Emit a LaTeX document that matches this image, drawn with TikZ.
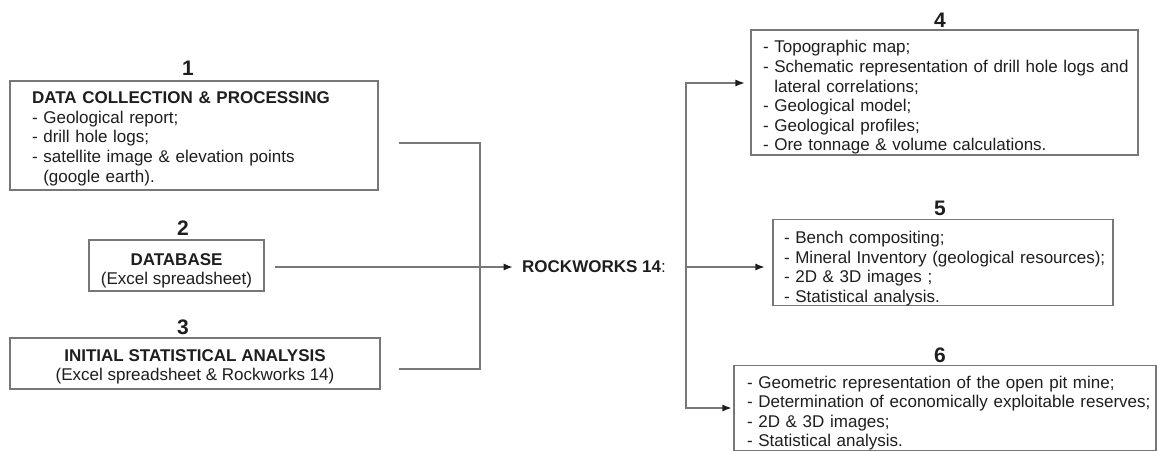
\documentclass[tikz,border=0pt]{standalone}
\usepackage{fontspec}
\setmainfont{Liberation Sans}
\usetikzlibrary{arrows.meta}
\definecolor{inkgray}{HTML}{1E1E1E}
\definecolor{linegray}{HTML}{777777}
\hyphenpenalty=10000
\exhyphenpenalty=10000
\newlength{\lineindent}
\newcommand{\padtop}[1]{\rule{0pt}{#1}}
\newcommand{\bul}{\hspace*{\lineindent}-\ }
\newcommand{\cont}{\hspace*{\lineindent}\hphantom{-}\ }

\begin{document}
\begin{tikzpicture}[x=1pt, y=-1pt, every node/.style={text=inkgray}]
    % Define styles
    \tikzstyle{stage} = [draw=linegray, line width=1.1pt, rectangle, fill=white, inner ysep=0pt, font=\fontsize{17}{19.6}\selectfont]
    \tikzstyle{stagenum} = [font=\fontsize{21}{24}\selectfont\bfseries, inner sep=0pt]
    \tikzstyle{flow} = [draw=linegray, line width=1.1pt]
    \tikzstyle{flowarrow} = [flow, -{Latex[length=9pt, width=7pt, color=inkgray]}]

    \useasboundingbox (0,0) rectangle (1157,452);

    % Input nodes
    \node[stage, minimum width=368pt, minimum height=109pt, text width=328pt, inner xsep=20pt, align=left] (collect) at (194,135.5)
        {\setlength{\lineindent}{2pt}\padtop{18.4pt}\hspace*{\lineindent}\textbf{DATA COLLECTION \& PROCESSING}\\\bul Geological report;\\\bul drill hole logs;\\\bul satellite image \& elevation points\\\cont (google earth).};
    \node[stage, minimum width=175pt, minimum height=51pt, align=center] (database) at (176.5,265.5)
        {\padtop{22.4pt}\textbf{DATABASE}\\(Excel spreadsheet)};
    \node[stage, minimum width=370pt, minimum height=51pt, align=center] (initstat) at (195,363.5)
        {\padtop{18.4pt}\textbf{INITIAL STATISTICAL ANALYSIS}\\(Excel spreadsheet \& Rockworks 14)};

    % Software node
    \node[font=\fontsize{17}{19.6}\selectfont] (rockworks) at (594,267) {\textbf{ROCKWORKS 14}:};
    \coordinate (split) at (686,267);

    % Output nodes
    \node[stage, minimum width=387pt, minimum height=125pt, text width=373pt, inner xsep=7pt, align=left] (results) at (944.5,92.5)
        {\setlength{\lineindent}{5pt}\padtop{22.4pt}\bul Topographic map;\\\bul Schematic representation of drill hole logs and\\\cont lateral correlations;\\\bul Geological model;\\\bul Geological profiles;\\\bul Ore tonnage \& volume calculations.};
    \node[stage, minimum width=340pt, minimum height=85pt, text width=328pt, inner xsep=6pt, align=left] (inventory) at (943,262.5)
        {\setlength{\lineindent}{5pt}\padtop{24.4pt}\bul Bench compositing;\\\bul Mineral Inventory (geological resources);\\\bul 2D \& 3D images ;\\\bul Statistical analysis.};
    \node[stage, minimum width=422pt, minimum height=84pt, text width=414pt, inner xsep=4pt, align=left] (openpit) at (945,408)
        {\setlength{\lineindent}{9pt}\padtop{22.4pt}\bul Geometric representation of the open pit mine;\\\bul Determination of economically exploitable reserves;\\\bul 2D \& 3D images;\\\bul Statistical analysis.};

    % Stage numbers
    \node[stagenum] (num1) at (188,68) {1};
    \node[stagenum] (num2) at (183,228) {2};
    \node[stagenum] (num3) at (183,327) {3};
    \node[stagenum] (num4) at (940,20) {4};
    \node[stagenum] (num5) at (940,208) {5};
    \node[stagenum] (num6) at (940,355) {6};

    % Flow arrows
    \coordinate (join) at (480,267);
    \draw[flow] ([xshift=20pt, yshift=-7.5pt]collect.east) -| (join);
    \draw[flow] ([xshift=18pt, yshift=-5.5pt]initstat.east) -| (join);
    \draw[flowarrow, shorten <=10pt, shorten >=6pt] (database.east |- join) -- (rockworks.west |- join);

    \draw[flowarrow, shorten >=6pt] (split) |- ([yshift=9.5pt]results.west);
    \draw[flowarrow, shorten >=8pt] (split) -- (split -| inventory.west);
    \draw[flowarrow, shorten >=2pt] (split) |- (openpit.west);
\end{tikzpicture}
\end{document}
